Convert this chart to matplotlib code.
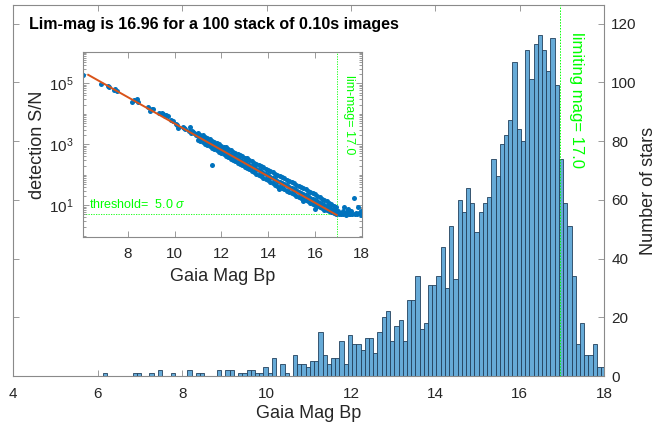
import numpy as np
import matplotlib
matplotlib.use("Agg")
import matplotlib.pyplot as plt
from matplotlib.ticker import FixedLocator, NullFormatter

plt.rcParams['font.family'] = ['Liberation Sans', 'DejaVu Sans']
plt.rcParams['mathtext.fontset'] = 'custom'
plt.rcParams['mathtext.rm'] = 'Liberation Sans'
plt.rcParams['mathtext.it'] = 'Liberation Sans:italic'

# ---------------- data ----------------
title_text = "Lim-mag is 16.96 for a 100 stack of 0.10s images"
lim_mag = 16.96
threshold_sigma = 5.0

bin_start = 6.0
bin_width = 0.1
bin_offset = 0.025
star_counts = [
    0, 1, 0, 0, 0, 0, 0, 0, 1, 1,
    0, 0, 1, 0, 2, 0, 0, 1, 0, 0,
    0, 2, 0, 1, 1, 0, 0, 0, 2, 0,
    2, 2, 0, 1, 1, 2, 2, 1, 1, 3,
    1, 6, 0, 4, 1, 0, 7, 4, 4, 3,
    5, 5, 15, 7, 4, 6, 6, 12, 4, 14,
    11, 11, 9, 13, 13, 8, 15, 20, 22, 12,
    17, 19, 12, 26, 26, 34, 16, 18, 31, 31,
    34, 44, 30, 51, 33, 60, 56, 64, 59, 49,
    56, 59, 61, 74, 68, 79, 82, 87, 107, 84,
    80, 111, 101, 113, 116, 111, 104, 115, 99, 74,
    59, 51, 34, 11, 18, 7, 7, 11, 3, 3,
]

main_xticks = [4, 6, 8, 10, 12, 14, 16, 18]
main_yticks = [0, 20, 40, 60, 80, 100, 120]

# scatter: Gaia Bp magnitude and log10(detection S/N)
sparse_mag = [6.10, 6.85, 7.15, 7.20, 7.40, 7.45, 7.55, 8.20, 8.25, 8.40,
              8.45, 8.85, 8.95, 9.05, 9.10, 9.35, 9.45, 9.50, 9.60, 9.65,
              9.70, 9.85, 9.95, 10.05, 10.10, 10.15, 10.35, 10.40, 10.45, 10.60,
              10.65, 10.70, 10.75, 10.80, 10.85, 10.90, 10.95]
sparse_logsn = [5.27, 4.98, 4.90, 4.87, 4.78, 4.82, 4.76, 4.40, 4.44, 4.48,
                4.38, 4.22, 4.08, 4.15, 4.17, 4.03, 4.02, 3.99, 3.93, 3.95,
                3.92, 3.80, 3.78, 3.66, 3.62, 3.52, 3.58, 3.55, 3.50, 3.45,
                3.58, 3.37, 3.42, 3.40, 3.36, 3.30, 3.35]

band_mag = [11.0, 11.1, 11.2, 11.3, 11.4, 11.5, 11.6, 11.7, 11.8, 11.9,
            12.0, 12.1, 12.2, 12.3, 12.4, 12.5, 12.6, 12.7, 12.8, 12.9,
            13.0, 13.1, 13.2, 13.3, 13.4, 13.5, 13.6, 13.7, 13.8, 13.9,
            14.0, 14.1, 14.2, 14.3, 14.4, 14.5, 14.6, 14.7, 14.8, 14.9,
            15.0, 15.1, 15.2, 15.3, 15.4, 15.5, 15.6, 15.7, 15.8, 15.9,
            16.0, 16.1, 16.2, 16.3, 16.4, 16.5, 16.6, 16.7, 16.8, 16.9]
band_upper = [3.36, 3.31, 3.29, 3.24, 3.20, 3.16, 3.12, 3.08, 3.04, 3.00,
              2.96, 2.92, 2.88, 2.84, 2.80, 2.76, 2.72, 2.68, 2.64, 2.60,
              2.56, 2.52, 2.48, 2.44, 2.40, 2.36, 2.32, 2.28, 2.24, 2.20,
              2.16, 2.12, 2.08, 2.04, 2.00, 1.96, 1.92, 1.88, 1.84, 1.80,
              1.76, 1.72, 1.68, 1.64, 1.60, 1.56, 1.52, 1.48, 1.44, 1.40,
              1.36, 1.31, 1.27, 1.22, 1.18, 1.13, 1.08, 1.03, 0.98, 0.93]
band_mid = [3.26, 3.22, 3.17, 3.13, 3.08, 3.05, 3.00, 2.96, 2.91, 2.87,
            2.83, 2.79, 2.74, 2.70, 2.66, 2.62, 2.58, 2.54, 2.49, 2.45,
            2.41, 2.37, 2.32, 2.28, 2.24, 2.19, 2.15, 2.11, 2.07, 2.02,
            1.98, 1.94, 1.90, 1.85, 1.81, 1.77, 1.73, 1.69, 1.65, 1.61,
            1.57, 1.53, 1.49, 1.45, 1.41, 1.37, 1.33, 1.29, 1.25, 1.21,
            1.17, 1.13, 1.09, 1.05, 1.01, 0.97, 0.93, 0.89, 0.85, 0.81]
band_lower = [3.14, 3.12, 3.06, 3.02, 2.97, 2.93, 2.89, 2.84, 2.80, 2.75,
              2.71, 2.67, 2.62, 2.58, 2.53, 2.49, 2.44, 2.40, 2.36, 2.31,
              2.27, 2.22, 2.18, 2.13, 2.09, 2.04, 2.00, 1.95, 1.91, 1.86,
              1.82, 1.77, 1.73, 1.68, 1.64, 1.60, 1.56, 1.52, 1.48, 1.44,
              1.40, 1.36, 1.32, 1.28, 1.24, 1.20, 1.17, 1.13, 1.09, 1.05,
              1.01, 0.97, 0.93, 0.90, 0.86, 0.83, 0.80, 0.77, 0.74, 0.71]

faint_mag = [17.00, 17.02, 17.10, 17.12, 17.20, 17.22, 17.25, 17.30, 17.35, 17.40,
             17.42, 17.45, 17.50, 17.55, 17.60, 17.65, 17.70, 17.75, 17.80, 17.85,
             17.90, 17.95, 17.98, 17.40, 11.59, 12.20, 16.00, 14.45, 13.10, 15.50]
faint_logsn = [0.80, 0.72, 0.76, 0.70, 0.82, 0.71, 0.95, 0.74, 0.69, 0.78,
               0.88, 0.72, 0.70, 0.80, 0.73, 1.23, 0.70, 0.76, 0.71, 0.95,
               0.74, 0.69, 0.82, 0.86, 2.32, 2.90, 0.88, 1.55, 2.55, 1.15]

fit_mag = [6.31, 16.93]
fit_snr = [1.9e5, 4.8]

inset_xticks = [8, 10, 12, 14, 16, 18]

# ---------------- figure ----------------
W, H = 660, 426
fig = plt.figure(figsize=(W / 100, H / 100), dpi=100)

def fig_rect(l, t, r, b):
    return [l / W, 1 - b / H, (r - l) / W, (b - t) / H]

spine_col = '#8a8a8a'
text_col = '#262626'
green = '#00ff00'

ax = fig.add_axes(fig_rect(13.3, 5, 604.3, 376))
counts = np.array(star_counts)
lefts = bin_start + bin_offset + bin_width * np.arange(len(counts))
nz = counts > 0
ax.bar(lefts[nz], counts[nz], width=bin_width, align='edge',
       color=(0.40, 0.667, 0.845), edgecolor='#22405c', linewidth=0.6, zorder=2)
ax.axvline(lim_mag, color=green, linestyle=(0, (1.5, 1.5)), linewidth=0.7, zorder=3)
ax.text(17.17, 117.0, "limiting mag= 17.0", rotation=-90, color=green,
        fontsize=12, ha='left', va='top')

ax.set_xlim(4, 18)
ax.set_ylim(0, 126.3)
ax.set_xticks(main_xticks)
ax.set_yticks(main_yticks)
ax.yaxis.tick_right()
ax.yaxis.set_label_position('right')
ax.tick_params(direction='in', top=True, left=True, right=True, bottom=True,
               labelleft=False, labelright=True, length=4, width=0.6,
               colors=spine_col, labelcolor=text_col, labelsize=11)
ax.tick_params(axis='x', pad=8)
ax.tick_params(axis='y', pad=5)
for s in ax.spines.values():
    s.set_color(spine_col)
    s.set_linewidth(0.8)
ax.set_xlabel("Gaia Mag Bp", fontsize=13, color=text_col, labelpad=3)
ax.set_ylabel("Number of stars", fontsize=13, color=text_col, labelpad=2,
              rotation=90)

fig.text(29 / W, 1 - 25 / H, title_text, fontsize=11.5, fontweight='bold',
         color='black', ha='left', va='center')

# ---------------- inset ----------------
ins = fig.add_axes(fig_rect(83.3, 51.7, 361.7, 237.3))
ins.set_yscale('log')
sc_col = '#0072BD'
all_mag = (sparse_mag + band_mag + band_mag + band_mag + faint_mag)
all_log = (sparse_logsn + band_upper + band_mid + band_lower + faint_logsn)
ins.scatter(all_mag, np.power(10.0, all_log), s=13, color=sc_col,
            linewidths=0, zorder=2)
ins.plot(fit_mag, fit_snr, color='#D95319', linewidth=1.4, zorder=3)
ins.axhline(threshold_sigma, color=green, linestyle=(0, (1.5, 1.5)), linewidth=0.6, zorder=1)
ins.axvline(lim_mag, color=green, linestyle=(0, (1.5, 1.5)), linewidth=0.6, zorder=1)
ins.text(6.35, threshold_sigma * 1.25, r"threshold=  5.0 $\sigma$", color=green,
         fontsize=9, ha='left', va='bottom')
ins.text(17.2, 1.9e5, "lim-mag= 17.0", rotation=-90, color=green,
         fontsize=9, ha='left', va='top')

ins.set_xlim(6.1, 18)
ins.set_ylim(0.89, 1.09e6)
ins.set_xticks(inset_xticks)
ins.yaxis.set_major_locator(FixedLocator([1e1, 1e3, 1e5]))
ins.set_yticklabels([r"$10^{1}$", r"$10^{3}$", r"$10^{5}$"])
minor = []
for d in range(0, 7):
    for k in range(1, 10):
        v = k * 10.0 ** d
        if v not in (1e1, 1e3, 1e5):
            minor.append(v)
ins.yaxis.set_minor_locator(FixedLocator(minor))
ins.yaxis.set_minor_formatter(NullFormatter())
ins.tick_params(which='both', direction='in', top=True, right=True,
                colors=spine_col, labelcolor=text_col, labelsize=11, width=0.6)
ins.tick_params(which='major', length=4, pad=7)
ins.tick_params(which='minor', length=2)
for s in ins.spines.values():
    s.set_color(spine_col)
    s.set_linewidth(0.8)
ins.set_xlabel("Gaia Mag Bp", fontsize=13, color=text_col, labelpad=5)
ins.set_ylabel("detection S/N", fontsize=13, color=text_col, labelpad=2)

fig.savefig("out.png", dpi=100)
